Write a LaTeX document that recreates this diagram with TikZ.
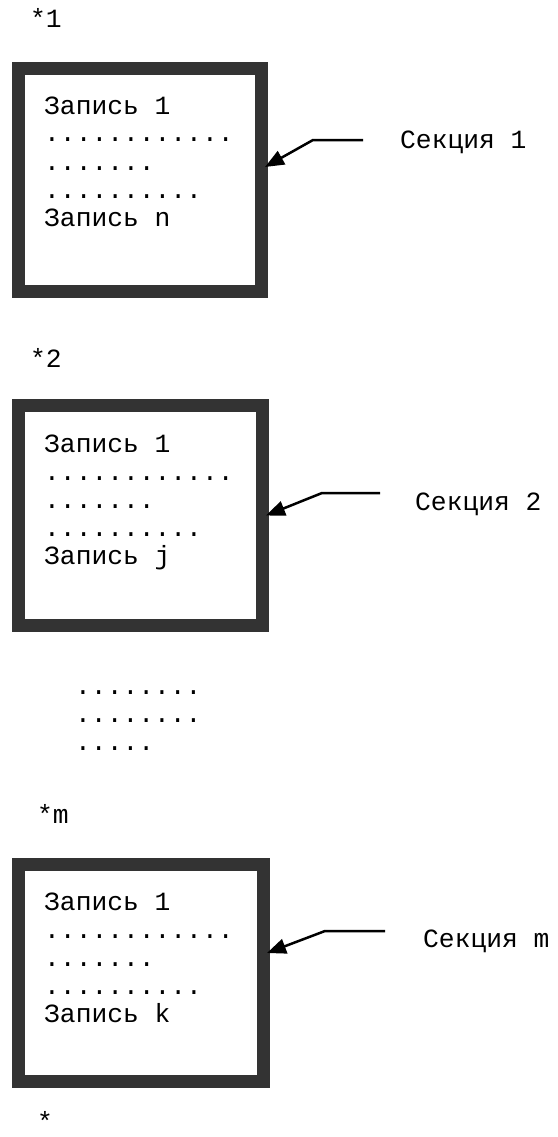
\documentclass[tikz,border=0pt]{standalone}
\usepackage{fontspec}
\setmainfont{Liberation Mono}
\usetikzlibrary{arrows.meta}
\definecolor{frame}{HTML}{333333}
\begin{document}
\begin{tikzpicture}[x=1pt,y=-1pt,
  mono/.style={inner sep=0pt,anchor=base west,font=\fontsize{26.3}{28}\selectfont},
  secbox/.style={draw=frame,line width=13pt,rectangle,inner sep=0pt,fill=white},
  pointer/.style={line width=2.5pt,-{Triangle[length=19pt,width=15pt]}}]
\useasboundingbox[fill=white] (0,0) rectangle (557,1137);

% section markers
\node[mono] (m1) at (30,28) {*1};
\node[mono] (m2) at (30,367) {*2};
\node[mono] (mm) at (37,823) {*m};
\node[mono] (mend) at (37,1130) {*};

% section frames
\node[secbox,minimum width=243pt,minimum height=223pt] (b1) at (140,180) {};
\node[secbox,minimum width=244pt,minimum height=220pt] (b2) at (140.5,515.5) {};
\node[secbox,minimum width=245pt,minimum height=217pt] (b3) at (141,973) {};

% records inside each section
\foreach \top/\last/\id in {114/n/a,452/j/b,910/k/c}{
  \node[mono] (\id r1) at (44,\top) {Запись 1};
  \node[mono] (\id d1) at (44,\top+28) {............};
  \node[mono] (\id d2) at (44,\top+56) {.......};
  \node[mono] (\id d3) at (44,\top+84) {..........};
  \node[mono] (\id rn) at (44,\top+112) {Запись \last};
}

% omitted sections
\node[mono] (g1) at (75,694) {........};
\node[mono] (g2) at (75,722) {........};
\node[mono] (g3) at (75,750) {.....};

% section labels
\node[mono] (s1) at (400,148) {Секция 1};
\node[mono] (s2) at (415,510) {Секция 2};
\node[mono] (s3) at (423,947) {Секция m};

% pointers from labels to frames
\coordinate (e1) at (363,140);
\coordinate (k1) at (313,140);
\coordinate (e2) at (380,493);
\coordinate (k2) at (322,493);
\coordinate (e3) at (385,931);
\coordinate (k3) at (325,931);
\draw[pointer] (e1) -- (k1) -- ([xshift=-3pt,yshift=13pt]b1.east);
\draw[pointer] (e2) -- (k2) -- ([xshift=-3pt]b2.east);
\draw[pointer] (e3) -- (k3) -- ([xshift=-3pt,yshift=20pt]b3.east);
\end{tikzpicture}
\end{document}
